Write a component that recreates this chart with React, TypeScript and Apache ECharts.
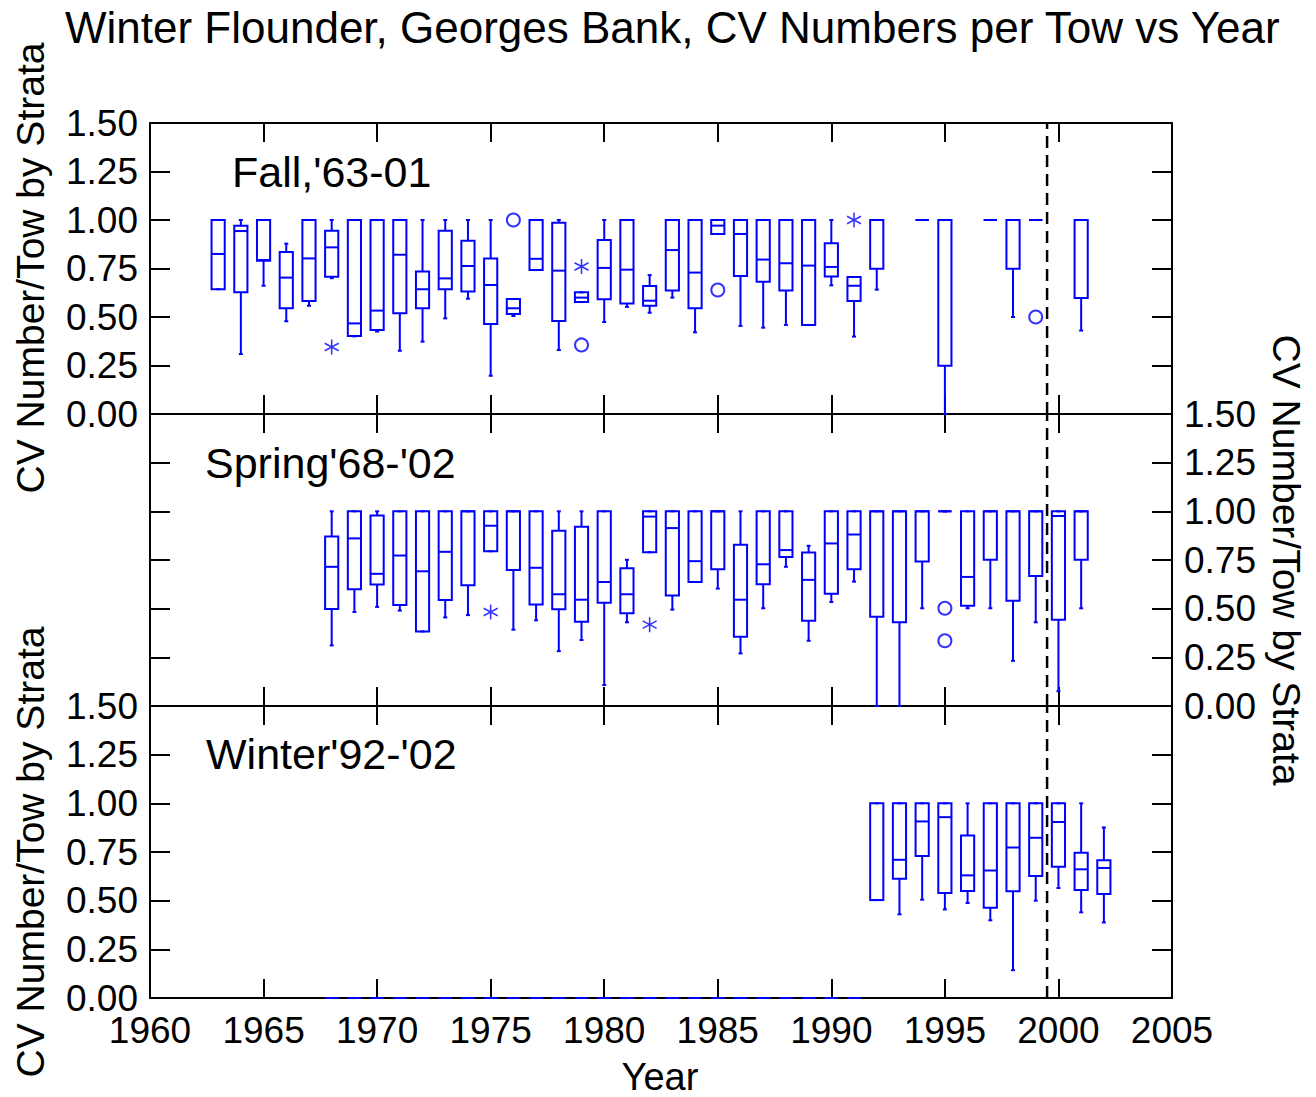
import React, { useEffect, useRef } from "react";
import * as echarts from "echarts";

const FONT = '"Liberation Sans", Arial, Helvetica, sans-serif';
const BLUE = "#0000ff";

const titleText = "Winter Flounder, Georges Bank, CV Numbers per Tow vs Year";
const yAxisTitle = "CV Number/Tow by Strata";
const xAxisTitle = "Year";
const panelLabels = ["Fall,'63-01", "Spring'68-'02", "Winter'92-'02"];

const xMin = 1960;
const xMax = 2005;
const xStep = 5;
const yMin = 0;
const yMax = 1.5;
const yStep = 0.25;
const dividerYear = 1999.5;

// [year, min, Q1, median, Q3, max]
const fallBoxes: number[][] = [
  [1963, 0.643, 0.643, 0.825, 1.0, 1.0],
  [1964, 0.309, 0.627, 0.943, 0.971, 1.0],
  [1965, 0.661, 0.79, 0.794, 1.0, 1.0],
  [1966, 0.478, 0.545, 0.703, 0.835, 0.878],
  [1967, 0.558, 0.582, 0.802, 1.0, 1.0],
  [1968, 0.7, 0.708, 0.859, 0.945, 1.0],
  [1969, 0.4, 0.402, 0.467, 1.0, 1.0],
  [1970, 0.425, 0.433, 0.533, 1.0, 1.0],
  [1971, 0.326, 0.519, 0.821, 1.0, 1.0],
  [1972, 0.373, 0.545, 0.643, 0.735, 1.0],
  [1973, 0.493, 0.643, 0.699, 0.945, 1.0],
  [1974, 0.594, 0.632, 0.763, 0.893, 1.0],
  [1975, 0.197, 0.464, 0.665, 0.802, 1.0],
  [1976, 0.505, 0.515, 0.545, 0.593, 0.593],
  [1977, 0.742, 0.742, 0.8, 1.0, 1.0],
  [1978, 0.33, 0.479, 0.739, 0.986, 1.0],
  [1979, 0.577, 0.577, 0.6, 0.627, 0.627],
  [1980, 0.474, 0.591, 0.753, 0.897, 1.0],
  [1981, 0.552, 0.569, 0.744, 1.0, 1.0],
  [1982, 0.522, 0.558, 0.584, 0.66, 0.716],
  [1983, 0.6, 0.636, 0.845, 1.0, 1.0],
  [1984, 0.421, 0.545, 0.729, 1.0, 1.0],
  [1985, 0.928, 0.928, 0.971, 1.0, 1.0],
  [1986, 0.454, 0.711, 0.928, 1.0, 1.0],
  [1987, 0.445, 0.682, 0.796, 1.0, 1.0],
  [1988, 0.459, 0.636, 0.777, 1.0, 1.0],
  [1989, 0.459, 0.459, 0.765, 1.0, 1.0],
  [1990, 0.663, 0.709, 0.758, 0.88, 1.0],
  [1991, 0.399, 0.582, 0.661, 0.706, 0.706],
  [1992, 0.641, 0.749, 1.0, 1.0, 1.0],
  [1994, 1.0, 1.0, 1.0, 1.0, 1.0],
  [1995, 0.0, 0.249, 1.0, 1.0, 1.0],
  [1997, 1.0, 1.0, 1.0, 1.0, 1.0],
  [1998, 0.5, 0.749, 1.0, 1.0, 1.0],
  [1999, 1.0, 1.0, 1.0, 1.0, 1.0],
  [2001, 0.43, 0.598, 1.0, 1.0, 1.0],
];
const fallCircles: number[][] = [
  [1976, 1.0],
  [1979, 0.356],
  [1985, 0.639],
  [1999, 0.5],
];
const fallStars: number[][] = [
  [1968, 0.345],
  [1979, 0.76],
  [1991, 1.0],
];

const springBoxes: number[][] = [
  [1968, 0.311, 0.498, 0.715, 0.871, 1.0],
  [1969, 0.483, 0.6, 0.861, 1.0, 1.0],
  [1970, 0.509, 0.624, 0.679, 0.978, 1.0],
  [1971, 0.49, 0.519, 0.773, 1.0, 1.0],
  [1972, 0.383, 0.383, 0.692, 1.0, 1.0],
  [1973, 0.455, 0.545, 0.792, 1.0, 1.0],
  [1974, 0.467, 0.62, 1.0, 1.0, 1.0],
  [1975, 0.795, 0.795, 0.926, 1.0, 1.0],
  [1976, 0.392, 0.699, 1.0, 1.0, 1.0],
  [1977, 0.44, 0.522, 0.71, 1.0, 1.0],
  [1978, 0.282, 0.497, 0.574, 0.9, 1.0],
  [1979, 0.339, 0.433, 0.546, 0.921, 1.0],
  [1980, 0.108, 0.531, 0.637, 1.0, 1.0],
  [1981, 0.43, 0.476, 0.574, 0.708, 0.751],
  [1982, 0.79, 0.79, 0.973, 1.0, 1.0],
  [1983, 0.495, 0.567, 0.914, 1.0, 1.0],
  [1984, 0.637, 0.637, 0.744, 1.0, 1.0],
  [1985, 0.603, 0.703, 1.0, 1.0, 1.0],
  [1986, 0.27, 0.356, 0.546, 0.828, 1.0],
  [1987, 0.502, 0.625, 0.728, 1.0, 1.0],
  [1988, 0.715, 0.766, 0.801, 1.0, 1.0],
  [1989, 0.335, 0.438, 0.648, 0.789, 0.823],
  [1990, 0.534, 0.577, 0.835, 1.0, 1.0],
  [1991, 0.639, 0.703, 0.881, 1.0, 1.0],
  [1992, 0.0, 0.459, 1.0, 1.0, 1.0],
  [1993, 0.0, 0.43, 1.0, 1.0, 1.0],
  [1994, 0.502, 0.742, 1.0, 1.0, 1.0],
  [1995, 1.0, 1.0, 1.0, 1.0, 1.0],
  [1996, 0.502, 0.515, 0.663, 1.0, 1.0],
  [1997, 0.502, 0.751, 1.0, 1.0, 1.0],
  [1998, 0.232, 0.541, 1.0, 1.0, 1.0],
  [1999, 0.43, 0.668, 1.0, 1.0, 1.0],
  [2000, 0.076, 0.443, 0.976, 1.0, 1.0],
  [2001, 0.502, 0.751, 1.0, 1.0, 1.0],
];
const springCircles: number[][] = [
  [1995, 0.502],
  [1995, 0.335],
];
const springStars: number[][] = [
  [1975, 0.483],
  [1982, 0.418],
];

const winterBoxes: number[][] = [
  [1968, 0, 0, 0, 0, 0],
  [1969, 0, 0, 0, 0, 0],
  [1970, 0, 0, 0, 0, 0],
  [1971, 0, 0, 0, 0, 0],
  [1972, 0, 0, 0, 0, 0],
  [1973, 0, 0, 0, 0, 0],
  [1974, 0, 0, 0, 0, 0],
  [1975, 0, 0, 0, 0, 0],
  [1976, 0, 0, 0, 0, 0],
  [1977, 0, 0, 0, 0, 0],
  [1978, 0, 0, 0, 0, 0],
  [1979, 0, 0, 0, 0, 0],
  [1980, 0, 0, 0, 0, 0],
  [1981, 0, 0, 0, 0, 0],
  [1982, 0, 0, 0, 0, 0],
  [1983, 0, 0, 0, 0, 0],
  [1984, 0, 0, 0, 0, 0],
  [1985, 0, 0, 0, 0, 0],
  [1986, 0, 0, 0, 0, 0],
  [1987, 0, 0, 0, 0, 0],
  [1988, 0, 0, 0, 0, 0],
  [1989, 0, 0, 0, 0, 0],
  [1990, 0, 0, 0, 0, 0],
  [1991, 0, 0, 0, 0, 0],
  [1992, 0.503, 0.503, 0.503, 1.0, 1.0],
  [1993, 0.43, 0.613, 0.71, 1.0, 1.0],
  [1994, 0.505, 0.73, 0.907, 1.0, 1.0],
  [1995, 0.455, 0.54, 0.929, 1.0, 1.0],
  [1996, 0.488, 0.55, 0.63, 0.835, 1.0],
  [1997, 0.399, 0.464, 0.655, 1.0, 1.0],
  [1998, 0.143, 0.548, 0.773, 1.0, 1.0],
  [1999, 0.5, 0.627, 0.823, 1.0, 1.0],
  [2000, 0.565, 0.674, 0.904, 1.0, 1.0],
  [2001, 0.44, 0.555, 0.661, 0.746, 1.0],
  [2002, 0.388, 0.534, 0.668, 0.708, 0.876],
];

const panels = [
  { boxes: fallBoxes, circles: fallCircles, stars: fallStars },
  { boxes: springBoxes, circles: springCircles, stars: springStars },
  { boxes: winterBoxes, circles: [] as number[][], stars: [] as number[][] },
];

const STAR_PATH =
  "path://M0,-10L0,10M-8.66,-5L8.66,5M-8.66,5L8.66,-5";

function renderBox(params: any, api: any) {
  const x = api.value(0);
  const vMin = api.value(1);
  const q1 = api.value(2);
  const med = api.value(3);
  const q3 = api.value(4);
  const vMax = api.value(5);
  const pMin = api.coord([x, vMin]);
  const pQ1 = api.coord([x, q1]);
  const pMed = api.coord([x, med]);
  const pQ3 = api.coord([x, q3]);
  const pMax = api.coord([x, vMax]);
  const cx = pMed[0];
  const half = api.size([1, 0])[0] * 0.29;
  const cap = 2;
  const st = { stroke: BLUE, lineWidth: 2, fill: "none" };
  const children: any[] = [
    {
      type: "polygon",
      shape: {
        points: [
          [cx - half, pQ3[1]],
          [cx + half, pQ3[1]],
          [cx + half, pQ1[1]],
          [cx - half, pQ1[1]],
        ],
      },
      style: st,
    },
    {
      type: "line",
      shape: { x1: cx - half, y1: pMed[1], x2: cx + half, y2: pMed[1] },
      style: st,
    },
    {
      type: "line",
      shape: { x1: cx, y1: pQ3[1], x2: cx, y2: pMax[1] },
      style: st,
    },
    {
      type: "line",
      shape: { x1: cx, y1: pQ1[1], x2: cx, y2: pMin[1] },
      style: st,
    },
    {
      type: "line",
      shape: { x1: cx - cap, y1: pMax[1], x2: cx + cap, y2: pMax[1] },
      style: st,
    },
    {
      type: "line",
      shape: { x1: cx - cap, y1: pMin[1], x2: cx + cap, y2: pMin[1] },
      style: st,
    },
  ];
  return { type: "group", children };
}

export default function App() {
  const ref = useRef<HTMLDivElement>(null);
  useEffect(() => {
    document.body.style.margin = "0";
    document.body.style.overflow = "hidden";
    const chart = echarts.init(ref.current!, null, { renderer: "svg" });

    const tops = [123, 414, 706];
    const heights = [291, 292, 292];
    const grids = tops.map((t, i) => ({
      left: 150,
      width: 1022,
      top: t,
      height: heights[i],
      containLabel: false,
    }));

    const axisLine = { show: true, onZero: false, lineStyle: { color: "#000", width: 2 } };
    const tickStyle = { color: "#000", width: 2 };
    const labelStyle = { color: "#000", fontSize: 37, fontFamily: FONT };

    const xAxes: any[] = [];
    const yAxes: any[] = [];
    tops.forEach((_, i) => {
      ["bottom", "top"].forEach((pos) => {
        xAxes.push({
          type: "value",
          gridIndex: i,
          position: pos,
          min: xMin,
          max: xMax,
          interval: xStep,
          axisLine,
          axisTick: { show: true, inside: true, length: 19, lineStyle: tickStyle },
          axisLabel: {
            show: i === 2 && pos === "bottom",
            margin: 14,
            ...labelStyle,
            formatter: (v: number) => String(v),
          },
          splitLine: { show: false },
        });
      });
      ["left", "right"].forEach((pos) => {
        const showLabel = pos === "left" ? i !== 1 : i === 1;
        yAxes.push({
          type: "value",
          gridIndex: i,
          position: pos,
          min: yMin,
          max: yMax,
          interval: yStep,
          axisLine,
          axisTick: { show: true, inside: true, length: 20, lineStyle: tickStyle },
          axisLabel: {
            show: showLabel,
            margin: 12,
            ...labelStyle,
            formatter: (v: number) => v.toFixed(2),
          },
          splitLine: { show: false },
        });
      });
    });

    const series: any[] = [];
    panels.forEach((p, i) => {
      series.push({
        type: "custom",
        xAxisIndex: 2 * i,
        yAxisIndex: 2 * i,
        renderItem: renderBox,
        encode: { x: 0, y: [1, 2, 3, 4, 5] },
        data: p.boxes,
        z: 3,
        silent: true,
      });
      if (p.circles.length) {
        series.push({
          type: "scatter",
          xAxisIndex: 2 * i,
          yAxisIndex: 2 * i,
          symbol: "emptyCircle",
          symbolSize: 13,
          itemStyle: { color: BLUE, borderColor: BLUE, borderWidth: 1.3 },
          data: p.circles,
          z: 4,
          silent: true,
        });
      }
      if (p.stars.length) {
        series.push({
          type: "scatter",
          xAxisIndex: 2 * i,
          yAxisIndex: 2 * i,
          symbol: STAR_PATH,
          symbolSize: [14, 15],
          itemStyle: { color: "transparent", borderColor: BLUE, borderWidth: 1.6 },
          data: p.stars,
          z: 4,
          silent: true,
        });
      }
      series.push({
        type: "line",
        xAxisIndex: 2 * i,
        yAxisIndex: 2 * i,
        data: [
          [dividerYear, yMin],
          [dividerYear, yMax],
        ],
        symbol: "none",
        lineStyle: { color: "#000", width: 2.5, type: [12, 7] },
        z: 5,
        silent: true,
      });
    });

    const txt = (
      text: string,
      x: number,
      y: number,
      size: number,
      align: string,
      rotation = 0
    ) => ({
      type: "text",
      x,
      y,
      rotation,
      silent: true,
      style: {
        text,
        fontSize: size,
        fontFamily: FONT,
        fill: "#000",
        textAlign: align,
        textVerticalAlign: "middle",
        align,
        verticalAlign: "middle",
      },
    });

    const graphic = [
      txt(titleText, 65, 27, 44, "left"),
      txt(panelLabels[0], 232, 172, 43, "left"),
      txt(panelLabels[1], 205, 463, 43, "left"),
      txt(panelLabels[2], 206, 754, 43, "left"),
      txt(yAxisTitle, 30, 268, 39, "center", Math.PI / 2),
      txt(yAxisTitle, 30, 852, 39, "center", Math.PI / 2),
      txt(yAxisTitle, 1286, 560, 39, "center", -Math.PI / 2),
      txt(xAxisTitle, 660, 1077, 38, "center"),
    ];

    chart.setOption({
      animation: false,
      backgroundColor: "#fff",
      textStyle: { fontFamily: FONT },
      grid: grids,
      xAxis: xAxes,
      yAxis: yAxes,
      series,
      graphic,
    });
    return () => chart.dispose();
  }, []);
  return <div ref={ref} style={{ width: 1316, height: 1097 }} />;
}
